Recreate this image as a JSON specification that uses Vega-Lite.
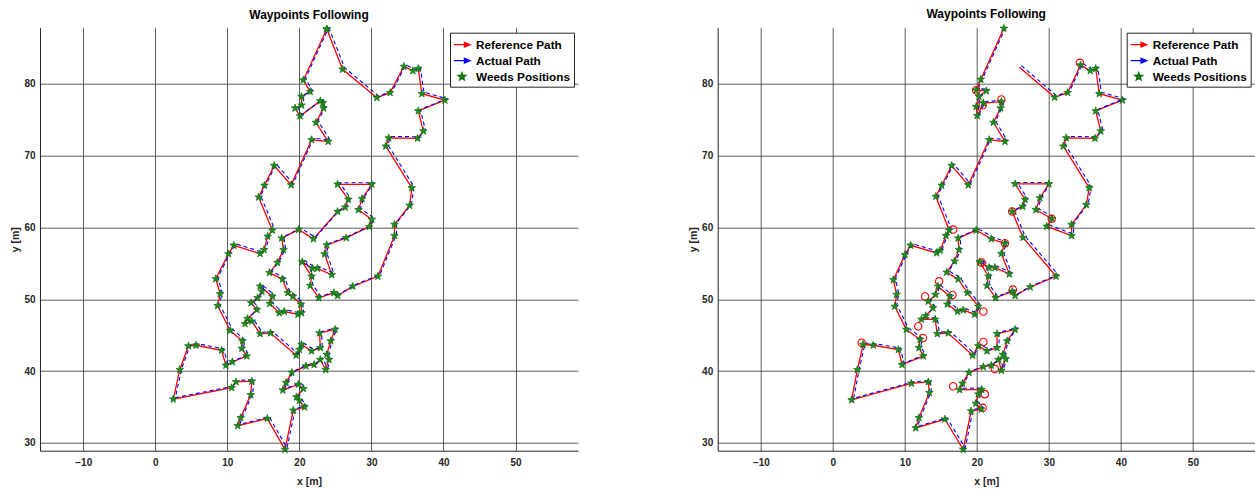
{
  "$schema": "https://vega.github.io/schema/vega-lite/v6.json",
  "background": "white",
  "padding": {"left": 10, "top": 7.7, "right": 0, "bottom": 0},
  "autosize": {"type": "pad"},
  "datasets": {
    "L": [
      {"i":0,"x":23.8,"y":87.6,"s":"Weeds Positions"},{"i":1,"x":26.0,"y":82.0,"s":"Weeds Positions"},{"i":2,"x":30.75,"y":78.05,"s":"Weeds Positions"},{"i":3,"x":32.6,"y":78.75,"s":"Weeds Positions"},{"i":4,"x":34.5,"y":82.4,"s":"Weeds Positions"},{"i":5,"x":35.75,"y":81.8,"s":"Weeds Positions"},{"i":6,"x":36.5,"y":82.1,"s":"Weeds Positions"},{"i":7,"x":37.0,"y":78.6,"s":"Weeds Positions"},{"i":8,"x":40.2,"y":77.7,"s":"Weeds Positions"},{"i":9,"x":36.5,"y":76.2,"s":"Weeds Positions"},
      {"i":10,"x":37.2,"y":73.4,"s":"Weeds Positions"},{"i":11,"x":36.4,"y":72.4,"s":"Weeds Positions"},{"i":12,"x":32.4,"y":72.45,"s":"Weeds Positions"},{"i":13,"x":32.0,"y":71.3,"s":"Weeds Positions"},{"i":14,"x":35.6,"y":65.5,"s":"Weeds Positions"},{"i":15,"x":35.3,"y":63.05,"s":"Weeds Positions"},{"i":16,"x":33.2,"y":60.4,"s":"Weeds Positions"},{"i":17,"x":33.2,"y":58.85,"s":"Weeds Positions"},{"i":18,"x":30.9,"y":53.2,"s":"Weeds Positions"},{"i":19,"x":27.4,"y":51.8,"s":"Weeds Positions"},
      {"i":20,"x":25.3,"y":50.5,"s":"Weeds Positions"},{"i":21,"x":24.8,"y":50.9,"s":"Weeds Positions"},{"i":22,"x":22.7,"y":50.2,"s":"Weeds Positions"},{"i":23,"x":21.5,"y":51.9,"s":"Weeds Positions"},{"i":24,"x":21.7,"y":53.2,"s":"Weeds Positions"},{"i":25,"x":20.4,"y":55.2,"s":"Weeds Positions"},{"i":26,"x":21.8,"y":54.3,"s":"Weeds Positions"},{"i":27,"x":22.5,"y":54.3,"s":"Weeds Positions"},{"i":28,"x":24.5,"y":53.4,"s":"Weeds Positions"},{"i":29,"x":23.5,"y":56.3,"s":"Weeds Positions"},
      {"i":30,"x":23.8,"y":57.55,"s":"Weeds Positions"},{"i":31,"x":26.5,"y":58.55,"s":"Weeds Positions"},{"i":32,"x":29.7,"y":60.1,"s":"Weeds Positions"},{"i":33,"x":30.05,"y":61.1,"s":"Weeds Positions"},{"i":34,"x":28.2,"y":62.45,"s":"Weeds Positions"},{"i":35,"x":28.7,"y":64.0,"s":"Weeds Positions"},{"i":36,"x":30.05,"y":66.0,"s":"Weeds Positions"},{"i":37,"x":25.3,"y":66.0,"s":"Weeds Positions"},{"i":38,"x":26.8,"y":63.9,"s":"Weeds Positions"},{"i":39,"x":26.35,"y":62.8,"s":"Weeds Positions"},
      {"i":40,"x":25.3,"y":62.2,"s":"Weeds Positions"},{"i":41,"x":21.95,"y":58.4,"s":"Weeds Positions"},{"i":42,"x":19.9,"y":59.7,"s":"Weeds Positions"},{"i":43,"x":17.55,"y":58.5,"s":"Weeds Positions"},{"i":44,"x":17.8,"y":56.9,"s":"Weeds Positions"},{"i":45,"x":16.95,"y":55.1,"s":"Weeds Positions"},{"i":46,"x":15.85,"y":53.7,"s":"Weeds Positions"},{"i":47,"x":17.65,"y":52.8,"s":"Weeds Positions"},{"i":48,"x":18.4,"y":50.9,"s":"Weeds Positions"},{"i":49,"x":19.1,"y":50.4,"s":"Weeds Positions"},
      {"i":50,"x":20.2,"y":49.3,"s":"Weeds Positions"},{"i":51,"x":20.3,"y":48.1,"s":"Weeds Positions"},{"i":52,"x":19.8,"y":47.9,"s":"Weeds Positions"},{"i":53,"x":17.9,"y":48.3,"s":"Weeds Positions"},{"i":54,"x":17.2,"y":48.1,"s":"Weeds Positions"},{"i":55,"x":15.9,"y":49.4,"s":"Weeds Positions"},{"i":56,"x":16.25,"y":50.4,"s":"Weeds Positions"},{"i":57,"x":14.55,"y":51.8,"s":"Weeds Positions"},{"i":58,"x":14.8,"y":51.1,"s":"Weeds Positions"},{"i":59,"x":14.2,"y":50.2,"s":"Weeds Positions"},
      {"i":60,"x":13.3,"y":49.5,"s":"Weeds Positions"},{"i":61,"x":14.1,"y":48.55,"s":"Weeds Positions"},{"i":62,"x":12.8,"y":47.3,"s":"Weeds Positions"},{"i":63,"x":12.45,"y":46.6,"s":"Weeds Positions"},{"i":64,"x":13.4,"y":46.95,"s":"Weeds Positions"},{"i":65,"x":14.55,"y":45.2,"s":"Weeds Positions"},{"i":66,"x":16.0,"y":45.3,"s":"Weeds Positions"},{"i":67,"x":19.55,"y":42.2,"s":"Weeds Positions"},{"i":68,"x":20.0,"y":43.0,"s":"Weeds Positions"},{"i":69,"x":20.3,"y":43.7,"s":"Weeds Positions"},
      {"i":70,"x":21.7,"y":42.8,"s":"Weeds Positions"},{"i":71,"x":22.9,"y":43.25,"s":"Weeds Positions"},{"i":72,"x":22.8,"y":45.3,"s":"Weeds Positions"},{"i":73,"x":24.95,"y":45.8,"s":"Weeds Positions"},{"i":74,"x":24.35,"y":44.2,"s":"Weeds Positions"},{"i":75,"x":23.8,"y":42.3,"s":"Weeds Positions"},{"i":76,"x":24.1,"y":41.6,"s":"Weeds Positions"},{"i":77,"x":23.65,"y":40.2,"s":"Weeds Positions"},{"i":78,"x":22.9,"y":41.6,"s":"Weeds Positions"},{"i":79,"x":22.05,"y":40.9,"s":"Weeds Positions"},
      {"i":80,"x":20.9,"y":40.7,"s":"Weeds Positions"},{"i":81,"x":18.95,"y":39.8,"s":"Weeds Positions"},{"i":82,"x":18.15,"y":38.4,"s":"Weeds Positions"},{"i":83,"x":17.7,"y":37.35,"s":"Weeds Positions"},{"i":84,"x":19.85,"y":38.15,"s":"Weeds Positions"},{"i":85,"x":20.55,"y":37.55,"s":"Weeds Positions"},{"i":86,"x":19.6,"y":36.4,"s":"Weeds Positions"},{"i":87,"x":20.0,"y":35.9,"s":"Weeds Positions"},{"i":88,"x":20.7,"y":35.0,"s":"Weeds Positions"},{"i":89,"x":19.15,"y":34.55,"s":"Weeds Positions"},
      {"i":90,"x":18.0,"y":29.1,"s":"Weeds Positions"},{"i":91,"x":15.55,"y":33.4,"s":"Weeds Positions"},{"i":92,"x":11.45,"y":32.4,"s":"Weeds Positions"},{"i":93,"x":11.85,"y":33.5,"s":"Weeds Positions"},{"i":94,"x":13.25,"y":36.7,"s":"Weeds Positions"},{"i":95,"x":13.4,"y":38.6,"s":"Weeds Positions"},{"i":96,"x":11.2,"y":38.5,"s":"Weeds Positions"},{"i":97,"x":10.6,"y":37.7,"s":"Weeds Positions"},{"i":98,"x":2.5,"y":36.1,"s":"Weeds Positions"},{"i":99,"x":3.4,"y":40.2,"s":"Weeds Positions"},
      {"i":100,"x":4.6,"y":43.5,"s":"Weeds Positions"},{"i":101,"x":5.65,"y":43.6,"s":"Weeds Positions"},{"i":102,"x":9.2,"y":42.9,"s":"Weeds Positions"},{"i":103,"x":9.8,"y":40.8,"s":"Weeds Positions"},{"i":104,"x":10.7,"y":41.3,"s":"Weeds Positions"},{"i":105,"x":12.7,"y":42.1,"s":"Weeds Positions"},{"i":106,"x":12.0,"y":43.15,"s":"Weeds Positions"},{"i":107,"x":12.1,"y":44.2,"s":"Weeds Positions"},{"i":108,"x":10.4,"y":45.65,"s":"Weeds Positions"},{"i":109,"x":8.65,"y":49.1,"s":"Weeds Positions"},
      {"i":110,"x":9.0,"y":50.75,"s":"Weeds Positions"},{"i":111,"x":8.4,"y":52.85,"s":"Weeds Positions"},{"i":112,"x":10.15,"y":56.3,"s":"Weeds Positions"},{"i":113,"x":10.9,"y":57.5,"s":"Weeds Positions"},{"i":114,"x":14.55,"y":56.35,"s":"Weeds Positions"},{"i":115,"x":15.1,"y":56.9,"s":"Weeds Positions"},{"i":116,"x":15.6,"y":58.75,"s":"Weeds Positions"},{"i":117,"x":16.25,"y":59.6,"s":"Weeds Positions"},{"i":118,"x":14.35,"y":64.2,"s":"Weeds Positions"},{"i":119,"x":15.15,"y":65.85,"s":"Weeds Positions"},
      {"i":120,"x":16.5,"y":68.6,"s":"Weeds Positions"},{"i":121,"x":18.85,"y":65.9,"s":"Weeds Positions"},{"i":122,"x":21.7,"y":72.2,"s":"Weeds Positions"},{"i":123,"x":24.0,"y":71.95,"s":"Weeds Positions"},{"i":124,"x":22.3,"y":74.6,"s":"Weeds Positions"},{"i":125,"x":23.35,"y":76.6,"s":"Weeds Positions"},{"i":126,"x":23.25,"y":77.3,"s":"Weeds Positions"},{"i":127,"x":22.9,"y":77.6,"s":"Weeds Positions"},{"i":128,"x":20.1,"y":75.5,"s":"Weeds Positions"},{"i":129,"x":19.4,"y":76.6,"s":"Weeds Positions"},
      {"i":130,"x":20.3,"y":77.0,"s":"Weeds Positions"},{"i":131,"x":20.3,"y":78.2,"s":"Weeds Positions"},{"i":132,"x":21.5,"y":78.9,"s":"Weeds Positions"},{"i":133,"x":20.55,"y":80.5,"s":"Weeds Positions"},{"i":134,"x":23.8,"y":87.6,"s":"Weeds Positions"}
    ],
    "R": [
      {"i":0,"x":25.9,"y":82.3,"s":"Weeds Positions"},{"i":1,"x":30.8,"y":78.1,"s":"Weeds Positions"},{"i":2,"x":32.6,"y":78.75,"s":"Weeds Positions"},{"i":3,"x":34.4,"y":82.6,"s":"Weeds Positions"},{"i":4,"x":35.75,"y":81.8,"s":"Weeds Positions"},{"i":5,"x":36.5,"y":82.1,"s":"Weeds Positions"},{"i":6,"x":37.0,"y":78.6,"s":"Weeds Positions"},{"i":7,"x":40.2,"y":77.7,"s":"Weeds Positions"},{"i":8,"x":36.5,"y":76.2,"s":"Weeds Positions"},{"i":9,"x":37.2,"y":73.4,"s":"Weeds Positions"},
      {"i":10,"x":36.4,"y":72.4,"s":"Weeds Positions"},{"i":11,"x":32.4,"y":72.45,"s":"Weeds Positions"},{"i":12,"x":32.0,"y":71.3,"s":"Weeds Positions"},{"i":13,"x":35.6,"y":65.5,"s":"Weeds Positions"},{"i":14,"x":35.2,"y":63.15,"s":"Weeds Positions"},{"i":15,"x":33.15,"y":60.4,"s":"Weeds Positions"},{"i":16,"x":33.15,"y":58.85,"s":"Weeds Positions"},{"i":17,"x":29.7,"y":60.15,"s":"Weeds Positions"},{"i":18,"x":30.4,"y":61.2,"s":"Weeds Positions"},{"i":19,"x":28.2,"y":62.45,"s":"Weeds Positions"},
      {"i":20,"x":28.75,"y":64.1,"s":"Weeds Positions"},{"i":21,"x":30.0,"y":66.05,"s":"Weeds Positions"},{"i":22,"x":25.3,"y":66.05,"s":"Weeds Positions"},{"i":23,"x":26.7,"y":63.85,"s":"Weeds Positions"},{"i":24,"x":26.35,"y":62.9,"s":"Weeds Positions"},{"i":25,"x":24.9,"y":62.2,"s":"Weeds Positions"},{"i":26,"x":26.4,"y":58.6,"s":"Weeds Positions"},{"i":27,"x":31.0,"y":53.2,"s":"Weeds Positions"},{"i":28,"x":27.4,"y":51.7,"s":"Weeds Positions"},{"i":29,"x":25.3,"y":50.5,"s":"Weeds Positions"},
      {"i":30,"x":24.9,"y":51.1,"s":"Weeds Positions"},{"i":31,"x":22.6,"y":50.2,"s":"Weeds Positions"},{"i":32,"x":21.4,"y":51.9,"s":"Weeds Positions"},{"i":33,"x":21.6,"y":53.2,"s":"Weeds Positions"},{"i":34,"x":20.4,"y":55.2,"s":"Weeds Positions"},{"i":35,"x":21.7,"y":54.4,"s":"Weeds Positions"},{"i":36,"x":22.5,"y":54.4,"s":"Weeds Positions"},{"i":37,"x":24.5,"y":53.5,"s":"Weeds Positions"},{"i":38,"x":23.4,"y":56.35,"s":"Weeds Positions"},{"i":39,"x":23.9,"y":57.75,"s":"Weeds Positions"},
      {"i":40,"x":22.0,"y":58.4,"s":"Weeds Positions"},{"i":41,"x":19.9,"y":59.6,"s":"Weeds Positions"},{"i":42,"x":17.4,"y":58.5,"s":"Weeds Positions"},{"i":43,"x":17.5,"y":56.9,"s":"Weeds Positions"},{"i":44,"x":16.9,"y":55.3,"s":"Weeds Positions"},{"i":45,"x":15.8,"y":53.75,"s":"Weeds Positions"},{"i":46,"x":17.4,"y":52.8,"s":"Weeds Positions"},{"i":47,"x":18.7,"y":50.9,"s":"Weeds Positions"},{"i":48,"x":20.2,"y":49.0,"s":"Weeds Positions"},{"i":49,"x":19.7,"y":47.9,"s":"Weeds Positions"},
      {"i":50,"x":18.1,"y":48.5,"s":"Weeds Positions"},{"i":51,"x":17.3,"y":48.3,"s":"Weeds Positions"},{"i":52,"x":15.9,"y":49.3,"s":"Weeds Positions"},{"i":53,"x":16.25,"y":50.4,"s":"Weeds Positions"},{"i":54,"x":14.6,"y":51.8,"s":"Weeds Positions"},{"i":55,"x":14.25,"y":50.65,"s":"Weeds Positions"},{"i":56,"x":13.25,"y":49.7,"s":"Weeds Positions"},{"i":57,"x":13.9,"y":48.8,"s":"Weeds Positions"},{"i":58,"x":12.9,"y":47.7,"s":"Weeds Positions"},{"i":59,"x":12.3,"y":47.2,"s":"Weeds Positions"},
      {"i":60,"x":14.2,"y":47.2,"s":"Weeds Positions"},{"i":61,"x":14.5,"y":45.2,"s":"Weeds Positions"},{"i":62,"x":16.0,"y":45.3,"s":"Weeds Positions"},{"i":63,"x":19.4,"y":42.2,"s":"Weeds Positions"},{"i":64,"x":20.2,"y":43.5,"s":"Weeds Positions"},{"i":65,"x":21.4,"y":42.8,"s":"Weeds Positions"},{"i":66,"x":22.8,"y":43.25,"s":"Weeds Positions"},{"i":67,"x":22.8,"y":45.2,"s":"Weeds Positions"},{"i":68,"x":25.3,"y":45.8,"s":"Weeds Positions"},{"i":69,"x":24.2,"y":44.2,"s":"Weeds Positions"},
      {"i":70,"x":23.6,"y":42.3,"s":"Weeds Positions"},{"i":71,"x":24.0,"y":41.7,"s":"Weeds Positions"},{"i":72,"x":23.4,"y":40.1,"s":"Weeds Positions"},{"i":73,"x":23.0,"y":41.6,"s":"Weeds Positions"},{"i":74,"x":22.0,"y":40.8,"s":"Weeds Positions"},{"i":75,"x":20.9,"y":40.6,"s":"Weeds Positions"},{"i":76,"x":18.9,"y":39.8,"s":"Weeds Positions"},{"i":77,"x":18.0,"y":38.3,"s":"Weeds Positions"},{"i":78,"x":17.6,"y":37.4,"s":"Weeds Positions"},{"i":79,"x":20.65,"y":37.45,"s":"Weeds Positions"},
      {"i":80,"x":20.2,"y":36.8,"s":"Weeds Positions"},{"i":81,"x":19.85,"y":35.5,"s":"Weeds Positions"},{"i":82,"x":20.6,"y":34.7,"s":"Weeds Positions"},{"i":83,"x":19.2,"y":34.45,"s":"Weeds Positions"},{"i":84,"x":18.1,"y":29.1,"s":"Weeds Positions"},{"i":85,"x":15.55,"y":33.3,"s":"Weeds Positions"},{"i":86,"x":11.5,"y":32.1,"s":"Weeds Positions"},{"i":87,"x":11.95,"y":33.5,"s":"Weeds Positions"},{"i":88,"x":13.4,"y":37.0,"s":"Weeds Positions"},{"i":89,"x":13.25,"y":38.5,"s":"Weeds Positions"},
      {"i":90,"x":10.9,"y":38.3,"s":"Weeds Positions"},{"i":91,"x":2.6,"y":36.0,"s":"Weeds Positions"},{"i":92,"x":3.4,"y":40.2,"s":"Weeds Positions"},{"i":93,"x":4.2,"y":43.7,"s":"Weeds Positions"},{"i":94,"x":5.6,"y":43.6,"s":"Weeds Positions"},{"i":95,"x":9.1,"y":43.0,"s":"Weeds Positions"},{"i":96,"x":9.6,"y":40.9,"s":"Weeds Positions"},{"i":97,"x":12.55,"y":42.1,"s":"Weeds Positions"},{"i":98,"x":11.95,"y":43.25,"s":"Weeds Positions"},{"i":99,"x":12.1,"y":44.4,"s":"Weeds Positions"},
      {"i":100,"x":10.2,"y":45.8,"s":"Weeds Positions"},{"i":101,"x":8.6,"y":49.0,"s":"Weeds Positions"},{"i":102,"x":8.85,"y":50.65,"s":"Weeds Positions"},{"i":103,"x":8.4,"y":52.7,"s":"Weeds Positions"},{"i":104,"x":10.0,"y":56.2,"s":"Weeds Positions"},{"i":105,"x":10.8,"y":57.5,"s":"Weeds Positions"},{"i":106,"x":14.4,"y":56.45,"s":"Weeds Positions"},{"i":107,"x":14.9,"y":56.8,"s":"Weeds Positions"},{"i":108,"x":15.7,"y":58.85,"s":"Weeds Positions"},{"i":109,"x":16.15,"y":59.6,"s":"Weeds Positions"},
      {"i":110,"x":14.3,"y":64.3,"s":"Weeds Positions"},{"i":111,"x":15.1,"y":65.85,"s":"Weeds Positions"},{"i":112,"x":16.5,"y":68.6,"s":"Weeds Positions"},{"i":113,"x":18.8,"y":65.9,"s":"Weeds Positions"},{"i":114,"x":21.7,"y":72.2,"s":"Weeds Positions"},{"i":115,"x":23.9,"y":71.95,"s":"Weeds Positions"},{"i":116,"x":22.3,"y":74.6,"s":"Weeds Positions"},{"i":117,"x":23.3,"y":76.6,"s":"Weeds Positions"},{"i":118,"x":23.4,"y":77.5,"s":"Weeds Positions"},{"i":119,"x":20.9,"y":77.3,"s":"Weeds Positions"},
      {"i":120,"x":20.05,"y":75.55,"s":"Weeds Positions"},{"i":121,"x":19.9,"y":76.8,"s":"Weeds Positions"},{"i":122,"x":20.3,"y":78.2,"s":"Weeds Positions"},{"i":123,"x":21.3,"y":79.0,"s":"Weeds Positions"},{"i":124,"x":19.9,"y":79.1,"s":"Weeds Positions"},{"i":125,"x":20.55,"y":80.6,"s":"Weeds Positions"},{"i":126,"x":23.75,"y":87.7,"s":"Weeds Positions"}
    ],
    "C": [
      {"x":34.3,"y":82.9},{"x":19.9,"y":79.1},{"x":20.8,"y":77.0},{"x":23.4,"y":77.8},{"x":16.7,"y":59.7},{"x":20.65,"y":55.1},{"x":14.75,"y":52.5},{"x":12.8,"y":50.4},{"x":16.6,"y":50.6},{"x":20.9,"y":48.3},{"x":11.85,"y":46.25},
      {"x":12.5,"y":44.6},{"x":4.0,"y":43.95},{"x":20.9,"y":44.05},{"x":16.7,"y":37.9},{"x":21.1,"y":36.8},{"x":22.5,"y":40.3},{"x":25.0,"y":51.35},{"x":23.9,"y":57.8},{"x":30.4,"y":61.2},{"x":24.9,"y":62.2},{"x":20.8,"y":34.9}
    ]
  },
  "hconcat": [
    {
      "width": 538,
      "height": 423,
      "title": {"text": "Waypoints Following"},
      "layer": [
        {
          "data": {"name": "L"},
          "mark": {"type": "line", "color": "#ff0000", "strokeWidth": 1.3},
          "encoding": {
            "x": {"field": "x", "type": "quantitative", "scale": {"domain": [-16, 58.67], "nice": false, "zero": false}, "axis": {"values": [-10, 0, 10, 20, 30, 40, 50], "title": "x [m]", "labelPadding": 7, "titlePadding": 9}},
            "y": {"field": "y", "type": "quantitative", "scale": {"domain": [28.93, 87.79], "nice": false, "zero": false}, "axis": {"values": [30, 40, 50, 60, 70, 80], "title": "y [m]", "labelPadding": 5, "titlePadding": 3}},
            "order": {"field": "i"}
          }
        },
        {
          "data": {"name": "L"},
          "mark": {"type": "line", "color": "#0000ff", "strokeWidth": 1.1, "strokeDash": [4, 3], "xOffset": 2, "yOffset": -1.5},
          "encoding": {
            "x": {"field": "x", "type": "quantitative"},
            "y": {"field": "y", "type": "quantitative"},
            "order": {"field": "i"}
          }
        },
        {
          "data": {"name": "L"},
          "mark": {"type": "point", "filled": true, "size": 260, "strokeWidth": 0.7, "opacity": 1},
          "encoding": {
            "x": {"field": "x", "type": "quantitative"},
            "y": {"field": "y", "type": "quantitative"},
            "fill": {
              "field": "s", "type": "nominal",
              "scale": {"domain": ["Reference Path", "Actual Path", "Weeds Positions"], "range": ["#ff0000", "#0000ff", "#1f8c1f"]},
              "legend": {"title": null, "orient": "top-right", "offset": 4.5, "padding": 3, "strokeColor": "#262626", "fillColor": "white", "labelFont": "Liberation Sans", "labelFontWeight": "bold", "labelFontSize": 11.8, "labelColor": "#000000", "symbolSize": 256, "symbolStrokeWidth": 1.3, "rowPadding": 0, "labelOffset": 5}
            },
            "stroke": {
              "field": "s", "type": "nominal",
              "scale": {"domain": ["Reference Path", "Actual Path", "Weeds Positions"], "range": ["#ff0000", "#0000ff", "#0b6b0b"]},
              "legend": {"title": null, "orient": "top-right", "offset": 4.5, "padding": 3, "strokeColor": "#262626", "fillColor": "white", "labelFont": "Liberation Sans", "labelFontWeight": "bold", "labelFontSize": 11.8, "labelColor": "#000000", "symbolSize": 256, "symbolStrokeWidth": 1.3, "rowPadding": 0, "labelOffset": 5}
            },
            "shape": {
              "field": "s", "type": "nominal",
              "scale": {"domain": ["Reference Path", "Actual Path", "Weeds Positions"], "range": ["M-1,0L0.55,0M0.3,-0.3L1,0L0.3,0.3Z", "M-1,0L0.55,0M0.3,-0.3L1,0L0.3,0.3Z", "M0,-0.5L0.118,-0.162L0.476,-0.155L0.19,0.062L0.294,0.405L0,0.2L-0.294,0.405L-0.19,0.062L-0.476,-0.155L-0.118,-0.162Z"]},
              "legend": {"title": null, "orient": "top-right", "offset": 4.5, "padding": 3, "strokeColor": "#262626", "fillColor": "white", "labelFont": "Liberation Sans", "labelFontWeight": "bold", "labelFontSize": 11.8, "labelColor": "#000000", "symbolSize": 256, "symbolStrokeWidth": 1.3, "rowPadding": 0, "labelOffset": 5}
            }
          }
        }
      ]
    },
    {
      "width": 537,
      "height": 423,
      "title": {"text": "Waypoints Following"},
      "layer": [
        {
          "data": {"name": "R"},
          "mark": {"type": "line", "color": "#ff0000", "strokeWidth": 1.3},
          "encoding": {
            "x": {"field": "x", "type": "quantitative", "scale": {"domain": [-16, 58.58], "nice": false, "zero": false}, "axis": {"values": [-10, 0, 10, 20, 30, 40, 50], "title": "x [m]", "labelPadding": 7, "titlePadding": 9}},
            "y": {"field": "y", "type": "quantitative", "scale": {"domain": [28.93, 87.79], "nice": false, "zero": false}, "axis": {"values": [30, 40, 50, 60, 70, 80], "title": "y [m]", "labelPadding": 5, "titlePadding": 3}},
            "order": {"field": "i"}
          }
        },
        {
          "data": {"name": "R"},
          "mark": {"type": "line", "color": "#0000ff", "strokeWidth": 1.1, "strokeDash": [4, 3], "xOffset": 2, "yOffset": -1.5},
          "encoding": {
            "x": {"field": "x", "type": "quantitative"},
            "y": {"field": "y", "type": "quantitative"},
            "order": {"field": "i"}
          }
        },
        {
          "data": {"name": "C"},
          "mark": {"type": "point", "shape": "circle", "filled": false, "size": 55, "color": "#ff0000", "strokeWidth": 1.1, "opacity": 1},
          "encoding": {
            "x": {"field": "x", "type": "quantitative"},
            "y": {"field": "y", "type": "quantitative"}
          }
        },
        {
          "data": {"name": "R"},
          "transform": [{"filter": "datum.i > 0"}],
          "mark": {"type": "point", "filled": true, "size": 260, "strokeWidth": 0.7, "opacity": 1},
          "encoding": {
            "x": {"field": "x", "type": "quantitative"},
            "y": {"field": "y", "type": "quantitative"},
            "fill": {
              "field": "s", "type": "nominal",
              "scale": {"domain": ["Reference Path", "Actual Path", "Weeds Positions"], "range": ["#ff0000", "#0000ff", "#1f8c1f"]},
              "legend": {"title": null, "orient": "top-right", "offset": 4.5, "padding": 3, "strokeColor": "#262626", "fillColor": "white", "labelFont": "Liberation Sans", "labelFontWeight": "bold", "labelFontSize": 11.8, "labelColor": "#000000", "symbolSize": 256, "symbolStrokeWidth": 1.3, "rowPadding": 0, "labelOffset": 5}
            },
            "stroke": {
              "field": "s", "type": "nominal",
              "scale": {"domain": ["Reference Path", "Actual Path", "Weeds Positions"], "range": ["#ff0000", "#0000ff", "#0b6b0b"]},
              "legend": {"title": null, "orient": "top-right", "offset": 4.5, "padding": 3, "strokeColor": "#262626", "fillColor": "white", "labelFont": "Liberation Sans", "labelFontWeight": "bold", "labelFontSize": 11.8, "labelColor": "#000000", "symbolSize": 256, "symbolStrokeWidth": 1.3, "rowPadding": 0, "labelOffset": 5}
            },
            "shape": {
              "field": "s", "type": "nominal",
              "scale": {"domain": ["Reference Path", "Actual Path", "Weeds Positions"], "range": ["M-1,0L0.55,0M0.3,-0.3L1,0L0.3,0.3Z", "M-1,0L0.55,0M0.3,-0.3L1,0L0.3,0.3Z", "M0,-0.5L0.118,-0.162L0.476,-0.155L0.19,0.062L0.294,0.405L0,0.2L-0.294,0.405L-0.19,0.062L-0.476,-0.155L-0.118,-0.162Z"]},
              "legend": {"title": null, "orient": "top-right", "offset": 4.5, "padding": 3, "strokeColor": "#262626", "fillColor": "white", "labelFont": "Liberation Sans", "labelFontWeight": "bold", "labelFontSize": 11.8, "labelColor": "#000000", "symbolSize": 256, "symbolStrokeWidth": 1.3, "rowPadding": 0, "labelOffset": 5}
            }
          }
        }
      ]
    }
  ],
  "spacing": 139.7,
  "bounds": "flush",
  "resolve": {"scale": {"fill": "independent", "stroke": "independent", "shape": "independent"}, "legend": {"fill": "independent", "stroke": "independent", "shape": "independent"}},
  "config": {
    "view": {"stroke": null},
    "title": {"font": "Liberation Sans", "fontSize": 12, "fontWeight": "bold", "color": "#000000", "offset": 2, "anchor": "middle"},
    "axis": {
      "domainColor": "#262626", "domainWidth": 1,
      "grid": true, "gridColor": "#333333", "gridOpacity": 0.8, "gridWidth": 1,
      "ticks": false,
      "labelFont": "Liberation Sans", "labelFontWeight": "bold", "labelFontSize": 10, "labelColor": "#262626",
      "titleFont": "Liberation Sans", "titleFontWeight": "bold", "titleFontSize": 10.5, "titleColor": "#262626"
    }
  }
}
